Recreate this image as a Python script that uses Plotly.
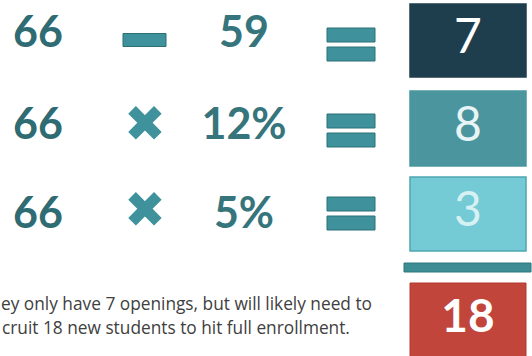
import plotly.graph_objects as go

# ---- data ----
left_operands = ["66", "66", "66"]
operators = ["minus", "times", "times"]
right_operands = ["59", "12%", "5%"]
results = ["7", "8", "3"]
total = "18"
# the note as it is visible in the reference (its left edge is cut there)
note_lines = ["ey only have 7 openings, but will likely need to",
              "cruit 18 new students to hit full enrollment."]

# ---- layout constants (pixel-like coordinates) ----
W, H = 532, 356
text_y = [36, 128, 217]
op_y = [40, 128, 214]
eq_y = [44, 130, 213]
box_top = [4, 91, 177]
box_bot = [77, 166, 251]
box_x0, box_x1 = 410, 526
box_fill = ["#1f3e4d", "#4b969e", "#74cad5"]
box_line = ["#1f3e4d", "#4b969e", "#4fa6b0"]
res_color = ["#ffffff", "#e8f4f5", "#d6f1f4"]
num_color = "#2f6b72"
op_fill = "#3f929b"
op_edge = "#2c7077"

fig = go.Figure()
shapes = []

# result boxes
for i in range(len(results)):
    shapes.append(dict(type="rect", xref="x", yref="y", x0=box_x0, x1=box_x1,
                       y0=box_top[i], y1=box_bot[i], fillcolor=box_fill[i],
                       line=dict(color=box_line[i], width=1.5), layer="below"))
# sum bar
shapes.append(dict(type="rect", xref="x", yref="y", x0=404, x1=531, y0=263, y1=272,
                   fillcolor="#3d8d95", line=dict(color="#2f767d", width=1), layer="below"))
# total box
shapes.append(dict(type="rect", xref="x", yref="y", x0=box_x0, x1=box_x1, y0=283, y1=357,
                   fillcolor="#c1453a", line=dict(color="#b33b31", width=1), layer="below"))

# operators
for i, op in enumerate(operators):
    if op == "minus":
        shapes.append(dict(type="rect", xref="x", yref="y", x0=123, x1=166,
                           y0=op_y[i] - 6.5, y1=op_y[i] + 6.5, fillcolor=op_fill,
                           line=dict(color=op_edge, width=1)))
    # equals sign
    for dy0, dy1 in [(-16, -2), (3, 17)]:
        shapes.append(dict(type="rect", xref="x", yref="y", x0=327, x1=375,
                           y0=eq_y[i] + dy0, y1=eq_y[i] + dy1, fillcolor=op_fill,
                           line=dict(color=op_edge, width=1)))

# left operands
fig.add_trace(go.Scatter(x=[38] * 3, y=text_y, text=left_operands, mode="text",
                         textfont=dict(family="Lato", size=43, color=num_color, weight="bold"),
                         hoverinfo="skip", showlegend=False))
# right operands
fig.add_trace(go.Scatter(x=[244] * 3, y=text_y, text=right_operands, mode="text",
                         textfont=dict(family="Lato", size=43, color="#35757b", weight="bold"),
                         hoverinfo="skip", showlegend=False))
# multiplication glyphs
tx = [145 for op in operators if op == "times"]
ty = [op_y[i] for i, op in enumerate(operators) if op == "times"]
fig.add_trace(go.Scatter(x=tx, y=ty, text=["✖"] * len(tx), mode="text",
                         textfont=dict(family="DejaVu Sans", size=50, color=op_fill),
                         hoverinfo="skip", showlegend=False))
# results
fig.add_trace(go.Scatter(x=[468] * 3, y=[(box_top[i] + box_bot[i]) / 2 for i in range(3)],
                         text=results, mode="text",
                         textfont=dict(family="Lato", size=48, color=res_color),
                         hoverinfo="skip", showlegend=False))
# total
fig.add_trace(go.Scatter(x=[468], y=[320], text=[total], mode="text",
                         textfont=dict(family="Lato", size=46, color="#ffffff", weight="bold"),
                         hoverinfo="skip", showlegend=False))
# note
fig.add_trace(go.Scatter(x=[1, 2], y=[306, 330], text=note_lines, mode="text",
                         textposition="middle right",
                         textfont=dict(family="Open Sans", size=17.3, color="#404040"),
                         hoverinfo="skip", showlegend=False))

fig.update_layout(width=W, height=H, margin=dict(l=0, r=0, t=0, b=0),
                  paper_bgcolor="white", plot_bgcolor="white",
                  shapes=shapes,
                  xaxis=dict(range=[0, W], visible=False, fixedrange=True),
                  yaxis=dict(range=[H, 0], visible=False, fixedrange=True))

fig.write_html("out.html", config={"displayModeBar": False},
               post_script="document.body.style.margin='0';document.body.style.overflow='hidden';")
